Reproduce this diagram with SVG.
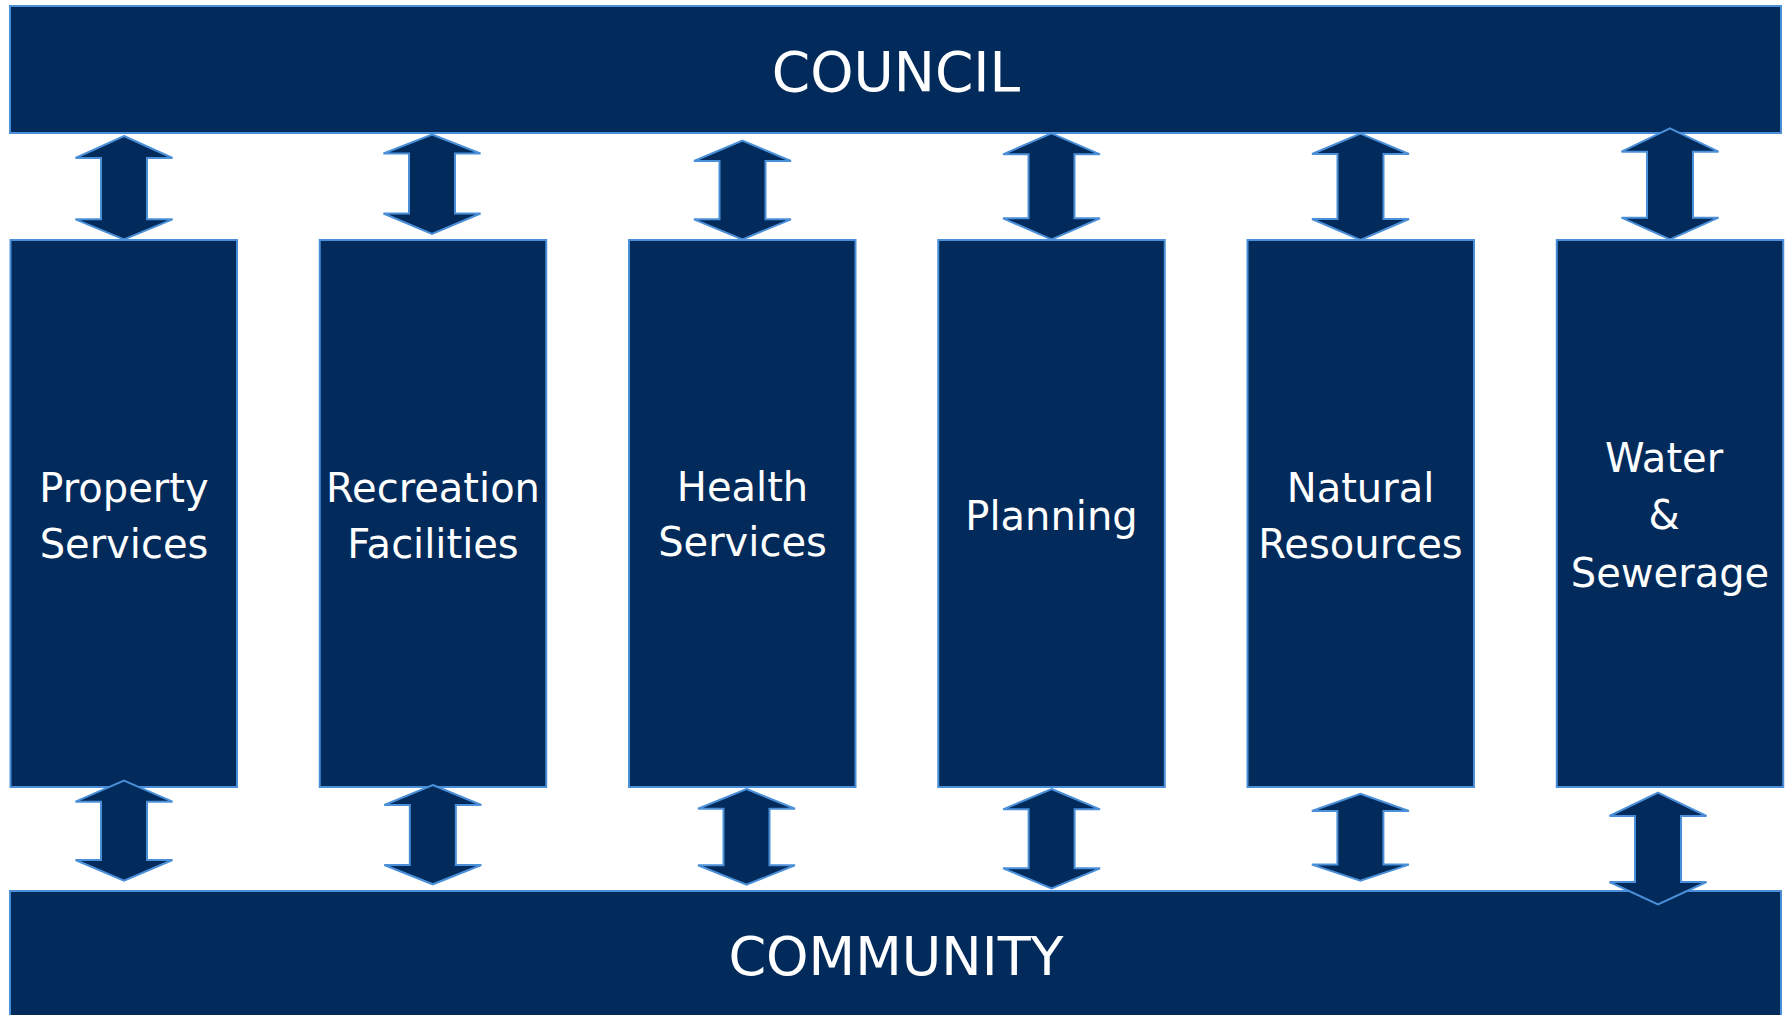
<svg xmlns="http://www.w3.org/2000/svg" width="1791" height="1015" viewBox="0 0 1791 1015">
<style>
.box{fill:#022b5c;stroke:#4a8fd8;stroke-width:2}
.arr{fill:#022b5c;stroke:#4a8fd8;stroke-width:2;stroke-linejoin:miter}
.big{font-family:"DejaVu Sans","Liberation Sans",sans-serif;font-size:54px;fill:#ffffff;text-anchor:middle}
.lbl{font-family:"DejaVu Sans","Liberation Sans",sans-serif;font-size:40px;fill:#ffffff;text-anchor:middle}
</style>
<rect width="1791" height="1015" fill="#ffffff"/>
<g id="council">
<rect class="box" x="10" y="6" width="1771" height="127"/>
<text class="big" x="896" y="91" style="font-size:55px">COUNCIL</text>
</g>
<g id="community">
<rect class="box" x="10" y="891" width="1771" height="140"/>
<text class="big" x="896" y="975">COMMUNITY</text>
</g>
<g id="property-services">
<rect class="box" x="10.5" y="240" width="226.5" height="547"/>
<text class="lbl" x="124" y="502">Property</text>
<text class="lbl" x="124" y="558">Services</text>
</g>
<g id="recreation-facilities">
<rect class="box" x="319.75" y="240" width="226.5" height="547"/>
<text class="lbl" x="433" y="502">Recreation</text>
<text class="lbl" x="433" y="558">Facilities</text>
</g>
<g id="health-services">
<rect class="box" x="629" y="240" width="226.5" height="547"/>
<text class="lbl" x="742.5" y="501">Health</text>
<text class="lbl" x="742.5" y="556">Services</text>
</g>
<g id="planning">
<rect class="box" x="938.25" y="240" width="226.5" height="547"/>
<text class="lbl" x="1051.5" y="530">Planning</text>
</g>
<g id="natural-resources">
<rect class="box" x="1247.5" y="240" width="226.5" height="547"/>
<text class="lbl" x="1360.5" y="502">Natural</text>
<text class="lbl" x="1360.5" y="558">Resources</text>
</g>
<g id="water-sewerage">
<rect class="box" x="1556.75" y="240" width="226.5" height="547"/>
<text class="lbl" x="1664" y="472">Water</text>
<text class="lbl" x="1664" y="529">&amp;</text>
<text class="lbl" x="1670" y="587">Sewerage</text>
</g>
<g id="connectors">
<polygon class="arr" points="124,136 172.5,158 147,158 147,219.3 172.5,219.3 124,239.3 75.5,219.3 101,219.3 101,158 75.5,158"/>
<polygon class="arr" points="432,134.5 480.5,153.5 455,153.5 455,213.5 480.5,213.5 432,234 383.5,213.5 409,213.5 409,153.5 383.5,153.5"/>
<polygon class="arr" points="742.5,140.7 791,161 765.5,161 765.5,219.3 791,219.3 742.5,239.3 694,219.3 719.5,219.3 719.5,161 694,161"/>
<polygon class="arr" points="1051.5,133.3 1100,154.3 1074.5,154.3 1074.5,218.3 1100,218.3 1051.5,239.3 1003,218.3 1028.5,218.3 1028.5,154.3 1003,154.3"/>
<polygon class="arr" points="1360.5,133.6 1409,154 1383.5,154 1383.5,219 1409,219 1360.5,240 1312,219 1337.5,219 1337.5,154 1312,154"/>
<polygon class="arr" points="1670,128.3 1718.5,151.7 1693,151.7 1693,217.7 1718.5,217.7 1670,239.3 1621.5,217.7 1647,217.7 1647,151.7 1621.5,151.7"/>
<polygon class="arr" points="124,780.7 172.5,801.7 147,801.7 147,860 172.5,860 124,880.7 75.5,860 101,860 101,801.7 75.5,801.7"/>
<polygon class="arr" points="432.8,785 481.3,805 455.8,805 455.8,865 481.3,865 432.8,884.3 384.3,865 409.8,865 409.8,805 384.3,805"/>
<polygon class="arr" points="746.5,789 795,808.7 769.5,808.7 769.5,865.3 795,865.3 746.5,884.7 698,865.3 723.5,865.3 723.5,808.7 698,808.7"/>
<polygon class="arr" points="1051.6,789 1100.1,809.3 1074.6,809.3 1074.6,868.3 1100.1,868.3 1051.6,888.3 1003.1,868.3 1028.6,868.3 1028.6,809.3 1003.1,809.3"/>
<polygon class="arr" points="1360.4,793.8 1408.9,811 1383.4,811 1383.4,864.6 1408.9,864.6 1360.4,880.6 1311.9,864.6 1337.4,864.6 1337.4,811 1311.9,811"/>
<polygon class="arr" points="1658,792.7 1706.5,816 1681,816 1681,882 1706.5,882 1658,904.3 1609.5,882 1635,882 1635,816 1609.5,816"/>
</g>
</svg>
